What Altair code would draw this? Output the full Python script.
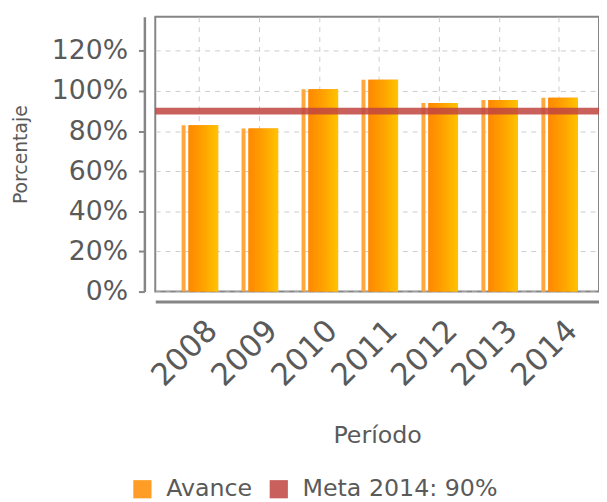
import altair as alt
import pandas as pd

periodos = ["2008", "2009", "2010", "2011", "2012", "2013", "2014"]
avance = [83.0, 81.3, 100.9, 105.6, 94.0, 95.5, 96.6]
meta_valor = [90]
serie_avance = "Avance"
serie_meta = "Meta 2014: 90%"
y_ticks = [0, 20, 40, 60, 80, 100, 120]

df = pd.DataFrame({"Periodo": periodos, "Avance": avance})
df_meta = pd.DataFrame({"Meta": meta_valor})

FONT = "DejaVu Sans"
GRAY = "#5a5a5a"
LINE = "#858585"

color_scale = alt.Scale(domain=[serie_avance, serie_meta], range=["#FF8C00", "#C0443F"])

x_enc = alt.X(
    "Periodo:N",
    sort=periodos,
    scale=alt.Scale(paddingInner=0, paddingOuter=0.2, align=0.59),
    axis=alt.Axis(
        title="Período",
        labelAngle=-45,
        labelAlign="right",
        labelBaseline="top",
        labelFont=FONT,
        labelFontSize=31,
        labelColor=GRAY,
        labelPadding=14,
        labelOffset=3,
        ticks=False,
        domain=True,
        offset=10,
        domainColor=LINE,
        domainWidth=3,
        grid=True,
        gridDash=[5, 5],
        gridColor="#cccccc",
        bandPosition=0.5,
        titleFont=FONT,
        titleFontSize=24,
        titleFontWeight="normal",
        titleColor=GRAY,
        titlePadding=33,
    ),
)

y_enc = alt.Y(
    "Avance:Q",
    scale=alt.Scale(domain=[0, 137], nice=False),
    axis=alt.Axis(
        values=y_ticks,
        labelExpr="datum.value + '%'",
        title="Porcentaje",
        offset=11,
        tickSize=6,
        tickColor=LINE,
        tickWidth=2,
        domainColor=LINE,
        domainWidth=2.5,
        grid=True,
        gridDash=[5, 5],
        gridColor="#cccccc",
        labelFont=FONT,
        labelFontSize=27,
        labelColor=GRAY,
        labelPadding=11,
        titleFont=FONT,
        titleFontSize=19,
        titleFontWeight="normal",
        titleColor=GRAY,
        titlePadding=21,
    ),
)

base = alt.Chart(df)

bars_solid = base.mark_bar(size=30, xOffset=4).encode(
    x=x_enc,
    y=y_enc,
    color=alt.Color(
        "serie:N",
        scale=color_scale,
        legend=alt.Legend(
            title=None,
            orient="none",
            direction="horizontal",
            legendX=-25,
            legendY=466,
            symbolType="square",
            symbolSize=340,
            symbolStrokeWidth=0,
            labelFont=FONT,
            labelFontSize=24,
            labelColor=GRAY,
            labelOffset=12,
            labelLimit=400,
            columnPadding=14,
        ),
    ),
).transform_calculate(serie="'" + serie_avance + "'")

gradient = alt.LinearGradient(
    gradient="linear",
    x1=0, x2=1, y1=0, y2=0,
    stops=[
        alt.GradientStop(color="#FF8800", offset=0),
        alt.GradientStop(color="#FFA200", offset=0.5),
        alt.GradientStop(color="#FFC400", offset=1),
    ],
)

bars_grad = base.mark_bar(size=30, xOffset=4, color=gradient).encode(x="Periodo:N", y="Avance:Q")

strip = base.mark_bar(size=4, xOffset=-16, color="#FFA63C").encode(x="Periodo:N", y="Avance:Q")

rule = alt.Chart(df_meta).mark_rule(strokeWidth=7, opacity=0.85).encode(
    y="Meta:Q",
    color=alt.Color("serie:N", scale=color_scale),
).transform_calculate(serie="'" + serie_meta + "'")

chart = alt.layer(bars_solid, bars_grad, strip, rule).properties(
    width=449,
    height=278,
    autosize="none",
    padding={"left": 149, "top": 6, "right": 0, "bottom": 212},
).configure_view(stroke=LINE, strokeWidth=2)

chart.save("out.html", embed_options={"renderer": "svg", "actions": False})
